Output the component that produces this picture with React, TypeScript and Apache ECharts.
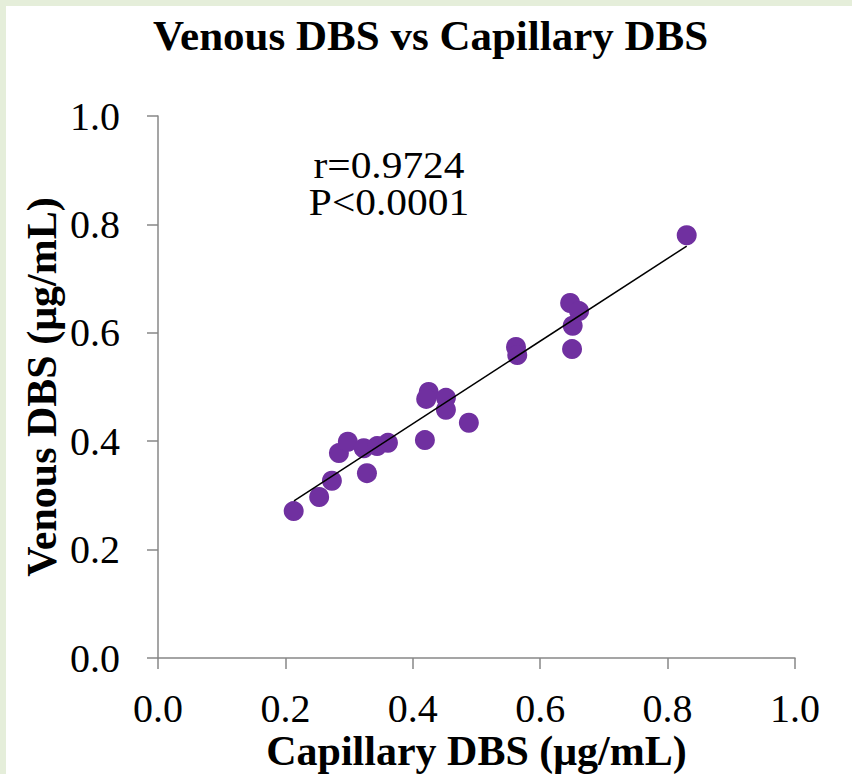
import React, { useEffect, useRef } from "react";
import * as echarts from "echarts";

// Capillary DBS (x) vs venous DBS (y) concentrations, µg/mL
const capillary = [
  0.213, 0.253, 0.273, 0.284, 0.298, 0.323, 0.344, 0.361, 0.328, 0.419, 0.425,
  0.421, 0.452, 0.452, 0.488, 0.562, 0.564, 0.647, 0.661, 0.651, 0.65, 0.83,
];
const venous = [
  0.271, 0.297, 0.327, 0.378, 0.399, 0.387, 0.391, 0.397, 0.341, 0.402, 0.491,
  0.478, 0.48, 0.458, 0.434, 0.574, 0.559, 0.655, 0.64, 0.613, 0.57, 0.78,
];
// Linear fit drawn across the capillary range
const fitX = [0.2135, 0.83];
const fitY = [0.29, 0.76];

const axisTicks = [0, 0.2, 0.4, 0.6, 0.8, 1.0];
const stats = ["r=0.9724", "P<0.0001"];

const FONT = "'Liberation Serif', 'Times New Roman', serif";

export default function App() {
  const ref = useRef<HTMLDivElement>(null);

  useEffect(() => {
    if (!ref.current) return;
    const chart = echarts.init(ref.current, null, { renderer: "svg" });
    const points = capillary.map((x, i) => [x, venous[i]]);
    const fit = fitX.map((x, i) => [x, fitY[i]]);
    const axisCommon = {
      type: "value" as const,
      min: axisTicks[0],
      max: axisTicks[axisTicks.length - 1],
      interval: 0.2,
      splitLine: { show: false },
      axisLine: { show: true, lineStyle: { color: "#878787", width: 1.5 } },
      axisTick: { show: true, length: 11, lineStyle: { color: "#878787", width: 1.5 } },
      nameLocation: "middle" as const,
      nameMoveOverlap: false,
      nameTextStyle: { fontFamily: FONT, fontWeight: "bold" as const, fontSize: 42, color: "#000" },
    };
    const labelStyle = {
      fontFamily: FONT,
      fontSize: 40,
      color: "#000",
      formatter: (v: number) => v.toFixed(1),
    };
    chart.setOption({
      animation: false,
      title: {
        text: "Venous DBS vs Capillary DBS",
        left: 142,
        top: 3,
        textStyle: { fontFamily: FONT, fontWeight: "bold", fontSize: 43, color: "#000" },
      },
      grid: { left: 152, right: 57, top: 110, bottom: 116, outerBoundsMode: "none", containLabel: false },
      xAxis: {
        ...axisCommon,
        name: "Capillary DBS (μg/mL)",
        nameGap: 72,
        axisLabel: { ...labelStyle, margin: 30 },
      },
      yAxis: {
        ...axisCommon,
        name: "Venous DBS (μg/mL)",
        nameGap: 95,
        axisLabel: { ...labelStyle, margin: 38 },
      },
      graphic: stats.map((s, i) => ({
        type: "text",
        x: 389 - 6,
        y: 165 - 6 + i * 37,
        scaleX: 1.12,
        style: {
          text: s,
          fontFamily: FONT,
          fontSize: 37,
          fill: "#000",
          textAlign: "center",
          textVerticalAlign: "middle",
        },
      })),
      series: [
        {
          type: "line",
          data: fit,
          showSymbol: false,
          symbol: "none",
          lineStyle: { color: "#000", width: 1.5 },
          z: 3,
        },
        {
          type: "scatter",
          data: points,
          symbolSize: 20,
          itemStyle: { color: "#7030a0", opacity: 1 },
          z: 2,
        },
      ],
    });
    return () => chart.dispose();
  }, []);

  return (
    <div
      style={{
        position: "fixed",
        left: 0,
        top: 0,
        width: 852,
        height: 774,
        background: "#e5eeda",
      }}
    >
      <div
        style={{
          position: "absolute",
          left: 6,
          top: 6,
          width: 846,
          height: 768,
          background: "#ffffff",
        }}
      >
        <div ref={ref} style={{ width: 846, height: 768 }} />
      </div>
    </div>
  );
}
